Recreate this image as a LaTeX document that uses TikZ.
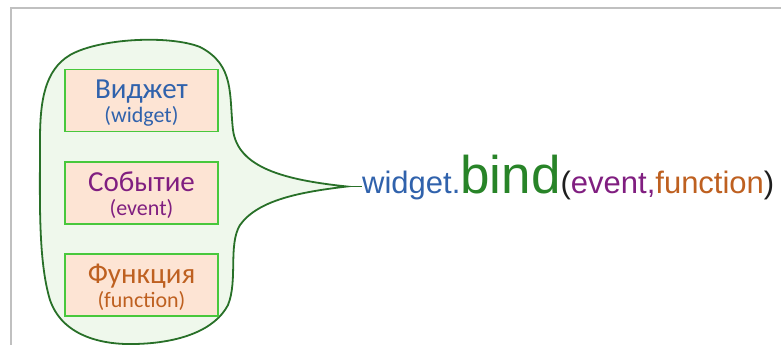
\documentclass[tikz,border=0pt]{standalone}
\usepackage{fontspec}
\setmainfont{Carlito}
\newfontfamily\codefont{Liberation Sans}
\definecolor{frameGray}{RGB}{192,192,192}
\definecolor{blobLine}{RGB}{40,112,40}
\definecolor{blobFill}{RGB}{239,248,236}
\definecolor{boxFill}{RGB}{253,228,212}
\definecolor{boxLine}{RGB}{72,200,60}
\definecolor{tBlue}{RGB}{48,98,172}
\definecolor{tPurple}{RGB}{128,30,128}
\definecolor{tBrown}{RGB}{190,96,32}
\definecolor{tGreen}{RGB}{40,132,40}
\definecolor{tDark}{RGB}{30,30,30}
\newcommand{\mainline}[1]{{\fontsize{29}{24}\selectfont #1}}
\newcommand{\tightlines}{\setlength{\lineskiplimit}{-100pt}}
\begin{document}
\begin{tikzpicture}[x=1pt,y=-1pt,
  termbox/.style={draw=boxLine,line width=1.8pt,fill=boxFill,
    minimum width=153pt,minimum height=62pt,inner sep=0pt},
  termtext/.style={align=center,inner sep=0pt,yshift=-2.3pt,
    font={\fontsize{22}{24}\selectfont\tightlines}}]
\useasboundingbox (0,0) rectangle (781,345);
% page frame
\draw[frameGray,line width=2pt] (781,8) -- (11,8) -- (11,345);
% speech-bubble outline grouping the three parts
\coordinate (tip) at (347,186.5);
\draw[blobLine,fill=blobFill,line width=1.8pt]
  (tip) .. controls (285,180) and (238,168) .. (233,130)
  .. controls (229,95) and (235,65) .. (200,47)
  .. controls (170,35) and (100,38) .. (70,55)
  .. controls (45,70) and (40,100) .. (40,140)
  .. controls (40,200) and (38,260) .. (50,300)
  .. controls (62,335) and (100,345) .. (135,344)
  .. controls (180,343) and (215,330) .. (228,305)
  .. controls (238,280) and (228,245) .. (240,225)
  .. controls (258,200) and (300,192) .. (tip) -- cycle;
% the three parts
\node[termbox] (w) at (141.5,100.5) {};
\node[termbox] (e) at (141.5,193) {};
\node[termbox] (f) at (141.5,285) {};
\node[termtext,text=tBlue] (wt) at (w.center) {\mainline{Виджет}\\(widget)};
\node[termtext,text=tPurple] (et) at (e.center) {\mainline{Событие}\\(event)};
\node[termtext,text=tBrown] (ft) at (f.center) {\mainline{Функция}\\(function)};
% the call
\node[anchor=base west,inner sep=0pt] (code) at (362,193)
  {\codefont\fontsize{31}{31}\selectfont
   \textcolor{tBlue}{widget.}{\fontsize{53}{53}\selectfont\textcolor{tGreen}{bind}}\textcolor{tDark}{(}\textcolor{tPurple}{event,}\textcolor{tBrown}{function}\textcolor{tDark}{)}};
\draw[blobLine,line width=1.8pt] (tip) -- (tip -| code.west);
\end{tikzpicture}
\end{document}
